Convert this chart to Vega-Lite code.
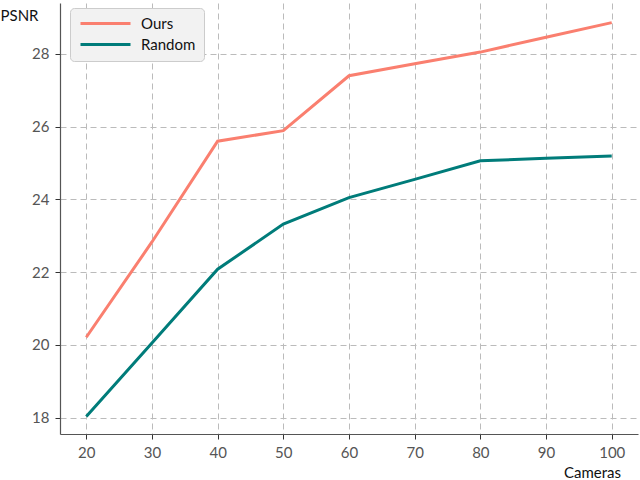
{
  "$schema": "https://vega.github.io/schema/vega-lite/v6.json",
  "width": 578,
  "height": 431,
  "autosize": "none",
  "padding": {"left": 60, "top": 3, "right": 2, "bottom": 46},
  "data": {
    "values": [
      {"cameras": 20, "psnr": 20.21, "method": "Ours"},
      {"cameras": 30, "psnr": 22.83, "method": "Ours"},
      {"cameras": 40, "psnr": 25.6, "method": "Ours"},
      {"cameras": 50, "psnr": 25.89, "method": "Ours"},
      {"cameras": 60, "psnr": 27.4, "method": "Ours"},
      {"cameras": 70, "psnr": 27.73, "method": "Ours"},
      {"cameras": 80, "psnr": 28.05, "method": "Ours"},
      {"cameras": 90, "psnr": 28.46, "method": "Ours"},
      {"cameras": 100, "psnr": 28.86, "method": "Ours"},
      {"cameras": 20, "psnr": 18.03, "method": "Random"},
      {"cameras": 30, "psnr": 20.05, "method": "Random"},
      {"cameras": 40, "psnr": 22.08, "method": "Random"},
      {"cameras": 50, "psnr": 23.32, "method": "Random"},
      {"cameras": 60, "psnr": 24.05, "method": "Random"},
      {"cameras": 70, "psnr": 24.55, "method": "Random"},
      {"cameras": 80, "psnr": 25.06, "method": "Random"},
      {"cameras": 90, "psnr": 25.13, "method": "Random"},
      {"cameras": 100, "psnr": 25.19, "method": "Random"}
    ]
  },
  "mark": {"type": "line", "strokeWidth": 3},
  "encoding": {
    "x": {
      "field": "cameras",
      "type": "quantitative",
      "scale": {"domain": [16, 104], "nice": false, "zero": false},
      "axis": {
        "values": [20, 30, 40, 50, 60, 70, 80, 90, 100],
        "title": "Cameras",
        "titleX": 532,
        "titleY": 38,
        "titleAlign": "center",
        "titleBaseline": "middle"
      }
    },
    "y": {
      "field": "psnr",
      "type": "quantitative",
      "scale": {"domain": [17.55, 29.4], "nice": false, "zero": false},
      "axis": {
        "values": [18, 20, 22, 24, 26, 28],
        "title": "PSNR",
        "titleAngle": 0,
        "titleX": -60,
        "titleY": 12,
        "titleAlign": "left",
        "titleBaseline": "middle"
      }
    },
    "color": {
      "field": "method",
      "type": "nominal",
      "scale": {"domain": ["Ours", "Random"], "range": ["#FA7F6F", "#007C7A"]},
      "legend": {
        "title": null,
        "orient": "none",
        "legendX": 10,
        "legendY": 5,
        "symbolType": "M-5,0H5",
        "symbolSize": 100,
        "symbolStrokeWidth": 3,
        "symbolOffset": 20,
        "labelOffset": 28,
        "fillColor": "#f2f2f2",
        "strokeColor": "#cccccc",
        "cornerRadius": 4,
        "padding": 8,
        "rowPadding": 5
      }
    }
  },
  "config": {
    "font": "Lato",
    "view": {"stroke": null},
    "axis": {
      "grid": true,
      "gridColor": "#bbbbbb",
      "gridDash": [6, 4],
      "gridWidth": 1,
      "domainColor": "#555555",
      "domainWidth": 1.2,
      "tickColor": "#333333",
      "tickSize": 5,
      "labelColor": "#555555",
      "labelFontSize": 15,
      "labelPadding": 6,
      "titleColor": "#111111",
      "titleFontSize": 15,
      "titleFontWeight": "normal"
    },
    "legend": {
      "labelFontSize": 15,
      "labelColor": "#111111"
    }
  }
}
